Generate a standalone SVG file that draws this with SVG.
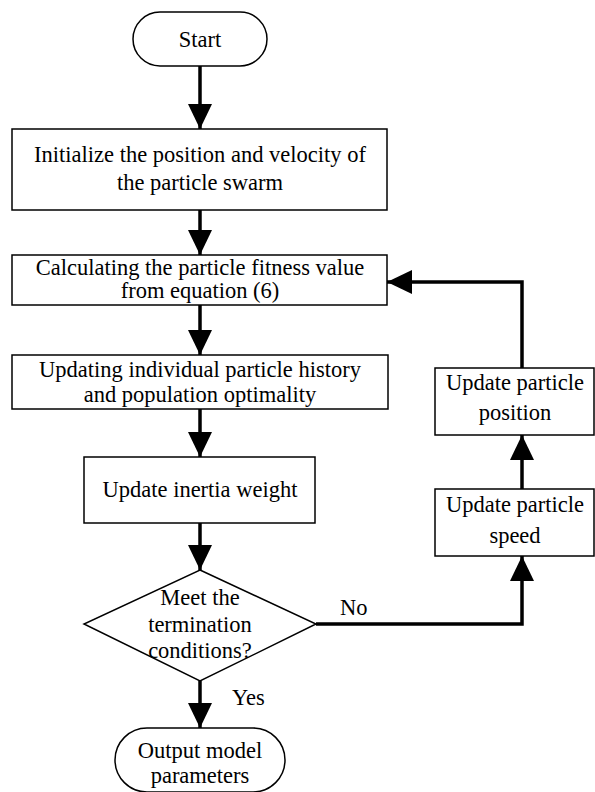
<svg xmlns="http://www.w3.org/2000/svg" width="595" height="792" viewBox="0 0 595 792">
<style>
.n{fill:#fff;stroke:#000;stroke-width:1.5}
.t{font-family:"Liberation Serif","Times New Roman",serif;font-size:22.5px;fill:#000;text-anchor:middle}
.l{font-family:"Liberation Serif","Times New Roman",serif;font-size:22.5px;fill:#000}
.c{fill:none;stroke:#000;stroke-width:3.5}
</style>
<defs>
<marker id="ah" viewBox="0 0 25 24" refX="25" refY="12" markerWidth="25" markerHeight="24" markerUnits="userSpaceOnUse" orient="auto">
<path d="M0,0 L25,12 L0,24 Z" fill="#000"/>
</marker>
</defs>
<g id="connectors">
<line class="c" x1="200" y1="66" x2="200" y2="129" marker-end="url(#ah)"/>
<line class="c" x1="200" y1="210" x2="200" y2="255" marker-end="url(#ah)"/>
<line class="c" x1="200" y1="305" x2="200" y2="355" marker-end="url(#ah)"/>
<line class="c" x1="200" y1="409" x2="200" y2="457" marker-end="url(#ah)"/>
<line class="c" x1="200" y1="523" x2="200" y2="570" marker-end="url(#ah)"/>
<line class="c" x1="200" y1="681" x2="200" y2="728" marker-end="url(#ah)"/>
<polyline class="c" points="316,624 522,624 522,556" marker-end="url(#ah)"/>
<line class="c" x1="522" y1="489" x2="522" y2="435" marker-end="url(#ah)"/>
<polyline class="c" points="522,368 522,282 387,282" marker-end="url(#ah)"/>
<text class="l" x="340" y="615">No</text>
<text class="l" x="232" y="705">Yes</text>
</g>
<g id="start">
<rect class="n" x="133" y="12" width="134" height="54" rx="27"/>
<text class="t" x="200" y="47">Start</text>
</g>
<g id="init">
<rect class="n" x="12" y="129" width="375" height="81"/>
<text class="t" x="200" y="162">Initialize the position and velocity of</text>
<text class="t" x="200" y="190">the particle swarm</text>
</g>
<g id="fitness">
<rect class="n" x="12" y="255" width="375" height="50"/>
<text class="t" x="200" y="275">Calculating the particle fitness value</text>
<text class="t" x="200" y="298">from equation (6)</text>
</g>
<g id="history">
<rect class="n" x="12" y="355" width="376" height="54"/>
<text class="t" x="200" y="377">Updating individual particle history</text>
<text class="t" x="200" y="402">and population optimality</text>
</g>
<g id="inertia">
<rect class="n" x="84" y="457" width="231" height="66"/>
<text class="t" x="200" y="497">Update inertia weight</text>
</g>
<g id="decision">
<polygon class="n" points="200,570 316,624 200,681 84,624"/>
<text class="t" x="200" y="605">Meet the</text>
<text class="t" x="200" y="632">termination</text>
<text class="t" x="200" y="658">conditions?</text>
</g>
<g id="output">
<rect class="n" x="115" y="728" width="170" height="64" rx="32"/>
<text class="t" x="200" y="758">Output model</text>
<text class="t" x="200" y="783">parameters</text>
</g>
<g id="position">
<rect class="n" x="435" y="368" width="159" height="67"/>
<text class="t" x="515" y="390">Update particle</text>
<text class="t" x="515" y="420">position</text>
</g>
<g id="speed">
<rect class="n" x="435" y="489" width="159" height="67"/>
<text class="t" x="515" y="512">Update particle</text>
<text class="t" x="515" y="543">speed</text>
</g>
</svg>
